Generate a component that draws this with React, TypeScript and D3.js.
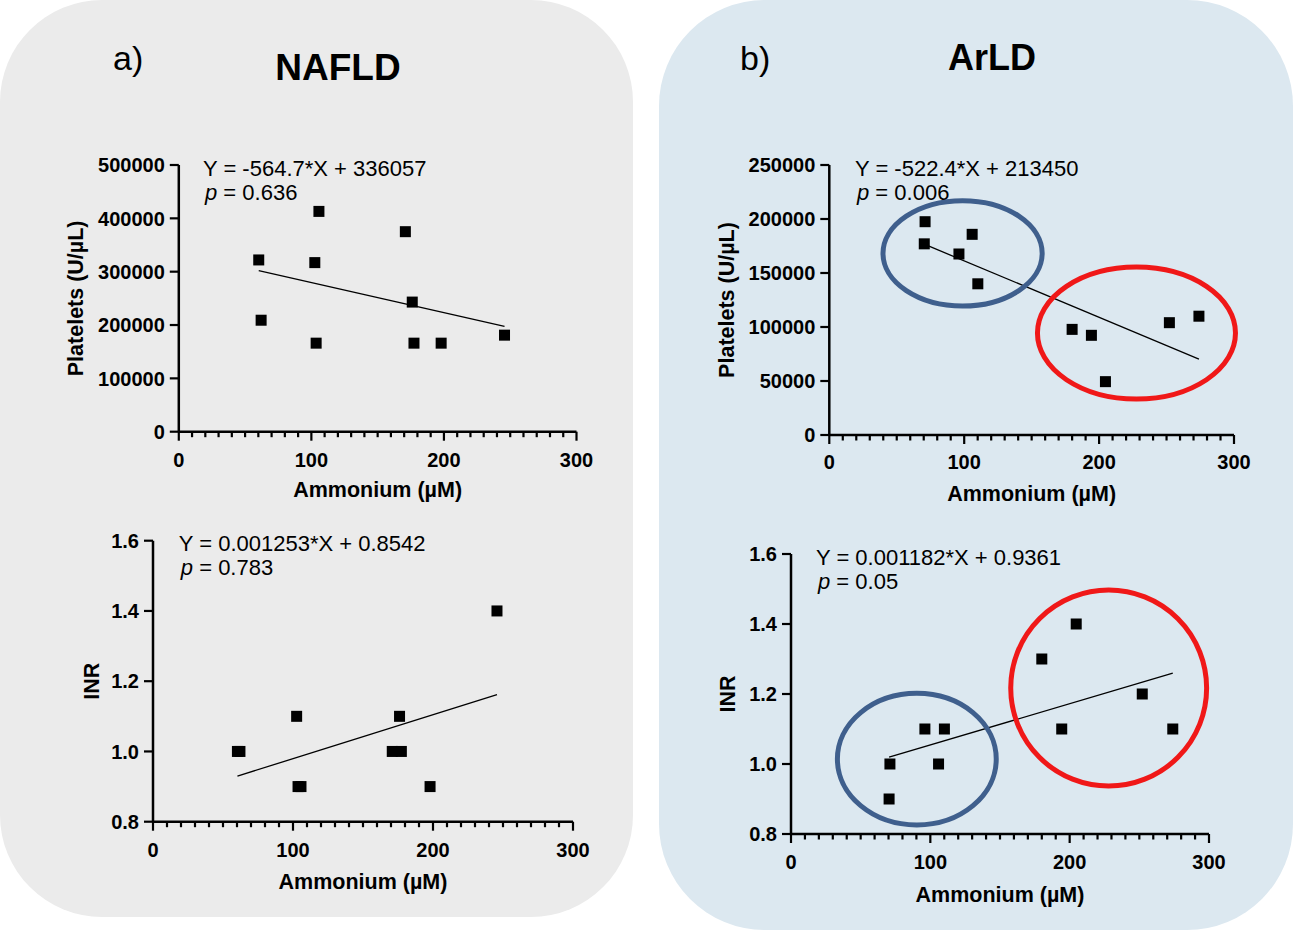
import React from "react";
import * as d3 from "d3";

// NAFLD cohort
const nafldAmmonium = [60.3, 62.1, 102.6, 103.6, 105.7, 170.9, 176.1, 177.4, 197.9, 245.7];
const nafldPlatelets = [322000, 209000, 317000, 166000, 413000, 375000, 243000, 166000, 166000, 181000];
const nafldInr = [1.0, 1.0, 1.1, 0.9, 0.9, 1.0, 1.1, 1.0, 0.9, 1.4];

// ArLD cohort
const arldAmmonium = [70.4, 71.0, 96.1, 105.9, 110.1, 180.0, 194.3, 204.7, 252.1, 274.0];
const arldPlatelets = [177000, 197500, 167600, 185800, 140000, 97800, 92300, 49400, 104000, 110000];
const arldInr = [0.9, 1.0, 1.1, 1.0, 1.1, 1.3, 1.1, 1.4, 1.2, 1.1];

const xTicks = [0, 100, 200, 300];
const plateletTicksA = [0, 100000, 200000, 300000, 400000, 500000];
const plateletTicksB = [0, 50000, 100000, 150000, 200000, 250000];
const inrTicks = [0.8, 1.0, 1.2, 1.4, 1.6];

// cluster annotations, in data units: [cx, cy, rx, ry]
const arldPlateletGroups: [number, number, number, number][] = [
  [98.8, 168200, 59, 48800],
  [227.7, 94400, 73.4, 61100],
];
const arldInrGroups: [number, number, number, number][] = [
  [90.3, 1.014, 57, 0.188],
  [228, 1.217, 70.3, 0.28],
];
const groupColors = ["#3f5f8d", "#f01818"];

const FONT = "'Liberation Sans', Arial, Helvetica, sans-serif";

interface ScatterProps {
  xs: number[];
  ys: number[];
  xRange: [number, number];
  yRange: [number, number];
  yDomain: [number, number];
  yTicks: number[];
  yFormat: (v: number) => string;
  slope: number;
  intercept: number;
  eqText: string;
  pText: string;
  eqPos: [number, number];
  yLabel: string;
  yLabelX: number;
  xTickY: number;
  xLabelY: number;
  groups?: [number, number, number, number][];
}

function Scatter(props: ScatterProps) {
  const {
    xs, ys, xRange, yRange, yDomain, yTicks, yFormat, slope, intercept,
    eqText, pText, eqPos, yLabel, yLabelX, xTickY, xLabelY, groups,
  } = props;
  const x = d3.scaleLinear().domain([0, 300]).range(xRange);
  const y = d3.scaleLinear().domain(yDomain).range(yRange);
  const minorTicks = d3.range(10, 300, 10).filter((t) => t % 100 !== 0);
  const xMin = d3.min(xs)!;
  const xMax = d3.max(xs)!;
  const line = d3.line<number>().x((d) => x(d)).y((d) => y(slope * d + intercept));
  const x0 = x(0);
  const yBase = y(yDomain[0]);
  const sq = 11;

  return (
    <g fontFamily={FONT}>
      {/* axes */}
      <line x1={x0} x2={x0} y1={yBase} y2={y(yDomain[1])} stroke="#000" strokeWidth={2.5} />
      <line x1={x0} x2={x(300)} y1={yBase} y2={yBase} stroke="#000" strokeWidth={2.5} />
      {yTicks.map((t) => (
        <g key={"y" + t}>
          <line x1={x0 - 9} x2={x0} y1={y(t)} y2={y(t)} stroke="#000" strokeWidth={2.2} />
          <text x={x0 - 14} y={y(t)} dy="0.36em" textAnchor="end" fontSize={20} fontWeight="bold">
            {yFormat(t)}
          </text>
        </g>
      ))}
      {xTicks.map((t) => (
        <g key={"x" + t}>
          <line x1={x(t)} x2={x(t)} y1={yBase} y2={yBase + 9} stroke="#000" strokeWidth={2.2} />
          <text x={x(t)} y={xTickY} dy="0.36em" textAnchor="middle" fontSize={20} fontWeight="bold">
            {t}
          </text>
        </g>
      ))}
      {minorTicks.map((t) => (
        <line key={"m" + t} x1={x(t)} x2={x(t)} y1={yBase} y2={yBase + 5.5} stroke="#000" strokeWidth={2.2} />
      ))}
      <text x={(xRange[0] + xRange[1]) / 2} y={xLabelY} dy="0.36em" textAnchor="middle" fontSize={21.5} fontWeight="bold">
        Ammonium (µM)
      </text>
      <text
        transform={`translate(${yLabelX},${(yRange[0] + yRange[1]) / 2}) rotate(-90)`}
        dy="0.36em"
        textAnchor="middle"
        fontSize={21.5}
        fontWeight="bold"
      >
        {yLabel}
      </text>

      {/* regression line */}
      <path d={line([xMin, xMax]) ?? ""} stroke="#000" strokeWidth={1.3} fill="none" />

      {/* points */}
      {xs.map((v, i) => (
        <rect key={i} x={x(v) - sq / 2} y={y(ys[i]) - sq / 2} width={sq} height={sq} fill="#000" />
      ))}

      {/* cluster ellipses */}
      {groups?.map((g, i) => (
        <ellipse
          key={"g" + i}
          cx={x(g[0])}
          cy={y(g[1])}
          rx={x(g[2]) - x(0)}
          ry={y(yDomain[0]) - y(yDomain[0] + g[3])}
          fill="none"
          stroke={groupColors[i]}
          strokeWidth={5}
        />
      ))}

      {/* equation */}
      <text x={eqPos[0]} y={eqPos[1]} dy="0.36em" fontSize={22}>
        {eqText}
      </text>
      <text x={eqPos[0] + 2} y={eqPos[1] + 24.5} dy="0.36em" fontSize={22}>
        <tspan fontStyle="italic">p</tspan> = {pText}
      </text>
    </g>
  );
}

const fmtInt = d3.format("d");
const fmtInr = d3.format(".1f");

export default function App() {
  return (
    <svg
      width={1310}
      height={935}
      style={{ position: "absolute", left: 0, top: 0, background: "#fff" }}
    >
      {/* panel backgrounds */}
      <rect x={0} y={0} width={633} height={917} rx={102} ry={102} fill="#ebebeb" />
      <rect x={659} y={0} width={634} height={930} rx={106} ry={106} fill="#dce8f0" />

      <text x={113} y={70} fontSize={34} fontFamily={FONT}>a)</text>
      <text x={338} y={80} fontSize={37} fontWeight="bold" textAnchor="middle" fontFamily={FONT}>NAFLD</text>
      <text x={740} y={70} fontSize={34} fontFamily={FONT}>b)</text>
      <text x={992} y={70} fontSize={36} fontWeight="bold" textAnchor="middle" fontFamily={FONT}>ArLD</text>

      <Scatter
        xs={nafldAmmonium}
        ys={nafldPlatelets}
        xRange={[178.8, 576.5]}
        yRange={[431.7, 165]}
        yDomain={[0, 500000]}
        yTicks={plateletTicksA}
        yFormat={fmtInt}
        slope={-564.7}
        intercept={336057}
        eqText="Y = -564.7*X + 336057"
        pText="0.636"
        eqPos={[203, 168]}
        yLabel="Platelets (U/µL)"
        yLabelX={75}
        xTickY={460}
        xLabelY={489}
      />
      <Scatter
        xs={nafldAmmonium}
        ys={nafldInr}
        xRange={[153, 573]}
        yRange={[821.7, 540.7]}
        yDomain={[0.8, 1.6]}
        yTicks={inrTicks}
        yFormat={fmtInr}
        slope={0.001253}
        intercept={0.8542}
        eqText="Y = 0.001253*X + 0.8542"
        pText="0.783"
        eqPos={[178.8, 543]}
        yLabel="INR"
        yLabelX={91}
        xTickY={850}
        xLabelY={881}
      />
      <Scatter
        xs={arldAmmonium}
        ys={arldPlatelets}
        xRange={[829.3, 1234]}
        yRange={[435, 165]}
        yDomain={[0, 250000]}
        yTicks={plateletTicksB}
        yFormat={fmtInt}
        slope={-522.4}
        intercept={213450}
        eqText="Y = -522.4*X + 213450"
        pText="0.006"
        eqPos={[855, 168]}
        yLabel="Platelets (U/µL)"
        yLabelX={726}
        xTickY={462}
        xLabelY={493}
        groups={arldPlateletGroups}
      />
      <Scatter
        xs={arldAmmonium}
        ys={arldInr}
        xRange={[791, 1209]}
        yRange={[834, 554]}
        yDomain={[0.8, 1.6]}
        yTicks={inrTicks}
        yFormat={fmtInr}
        slope={0.001182}
        intercept={0.9361}
        eqText="Y = 0.001182*X + 0.9361"
        pText="0.05"
        eqPos={[816, 557]}
        yLabel="INR"
        yLabelX={727}
        xTickY={862}
        xLabelY={894}
        groups={arldInrGroups}
      />
    </svg>
  );
}
